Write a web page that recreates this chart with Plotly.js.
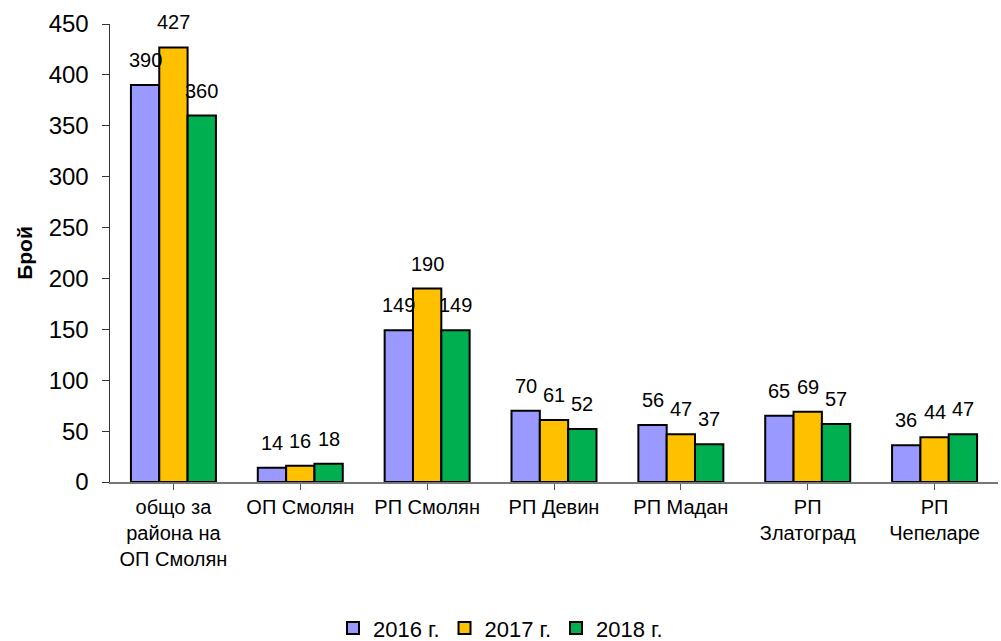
<!DOCTYPE html>
<html>
<head>
<meta charset="utf-8">
<script src="https://cdn.plot.ly/plotly-3.0.1.min.js"></script>
<style>html,body{margin:0;padding:0;background:#fff;}#chart{width:1001px;height:641px;}</style>
</head>
<body>
<div id="chart"></div>
<script>
const categories = ["общо за<br>района на<br>ОП Смолян", "ОП Смолян", "РП Смолян", "РП Девин", "РП Мадан", "РП<br>Златоград", "РП<br>Чепеларе"];
const series2016 = [390, 14, 149, 70, 56, 65, 36];
const series2017 = [427, 16, 190, 61, 47, 69, 44];
const series2018 = [360, 18, 149, 52, 37, 57, 47];
const seriesNames = ["2016 г.", "2017 г.", "2018 г."];
const yTicks = [0, 50, 100, 150, 200, 250, 300, 350, 400, 450];

const colors = ["#9999FF", "#FFC000", "#00B050"];
const allSeries = [series2016, series2017, series2018];
const bargap = 0.33;
const font = "'Liberation Sans', Arial, sans-serif";

const xIdx = categories.map((c, i) => i);
const traces = allSeries.map((vals, i) => ({
  type: "bar",
  name: seriesNames[i],
  x: xIdx,
  y: vals,
  marker: {color: colors[i], line: {color: "#000", width: 2}},
  hoverinfo: "skip"
}));

const w = (1 - bargap) / 3;
const annotations = [];
allSeries.forEach((vals, i) => {
  vals.forEach((v, j) => {
    annotations.push({
      x: j + (i - 1) * w, y: v, xref: "x", yref: "y",
      text: String(v), showarrow: false, yanchor: "middle", yshift: 25,
      font: {family: font, size: 20, color: "#000"}
    });
  });
});

const layout = {
  width: 1001, height: 641,
  margin: {l: 110, r: 3, t: 24, b: 159},
  paper_bgcolor: "#fff", plot_bgcolor: "#fff",
  barmode: "group", bargap: bargap, bargroupgap: 0,
  showlegend: true,
  legend: {
    orientation: "h", x: 0.5, xanchor: "center", xref: "container",
    y: 0.02, yanchor: "middle", yref: "container",
    font: {family: font, size: 22, color: "#000"},
    itemwidth: 30, traceorder: "normal"
  },
  xaxis: {
    tickmode: "array", tickvals: xIdx, ticktext: categories,
    range: [-0.5, categories.length - 0.5],
    tickson: "boundaries", ticks: "outside", ticklen: 6, tickcolor: "#555",
    showline: true, linecolor: "#777", linewidth: 1.5,
    showgrid: false, zeroline: false,
    tickfont: {family: font, size: 20, color: "#000"}
  },
  yaxis: {
    range: [0, 450], tickvals: yTicks, ticks: "outside", ticklen: 7, tickcolor: "#333",
    showline: true, linecolor: "#333", linewidth: 1.5,
    showgrid: false, zeroline: false, ticklabelstandoff: 8,
    tickfont: {family: font, size: 24, color: "#000"},
    title: {text: "<b>Брой</b>", font: {family: font, size: 21, color: "#000"}, standoff: 10}
  },
  annotations: annotations
};

Plotly.newPlot("chart", traces, layout, {displayModeBar: false, staticPlot: true});
</script>
</body>
</html>
